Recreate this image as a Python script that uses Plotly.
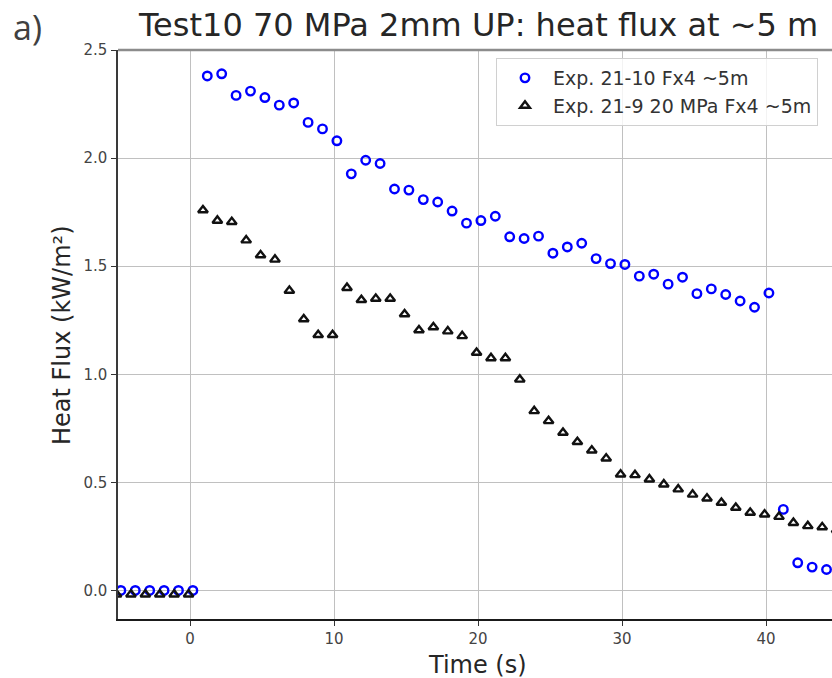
import plotly.graph_objects as go

# ---- data ----
title_text = "Test10 70 MPa 2mm UP: heat flux at ~5 m"
panel_label = "a)"
x_label = "Time (s)"
y_label = "Heat Flux (kW/m²)"

series1_name = "Exp. 21-10 Fx4 ~5m"
series1_time = [-4.8, -3.8, -2.8, -1.8, -0.8, 0.2,
                1.2, 2.2, 3.2, 4.2, 5.2, 6.2, 7.2, 8.2, 9.2, 10.2,
                11.2, 12.2, 13.2, 14.2, 15.2, 16.2, 17.2, 18.2, 19.2, 20.2,
                21.2, 22.2, 23.2, 24.2, 25.2, 26.2, 27.2, 28.2, 29.2, 30.2,
                31.2, 32.2, 33.2, 34.2, 35.2, 36.2, 37.2, 38.2, 39.2, 40.2,
                41.2, 42.2, 43.2, 44.2]
series1_flux = [0.0, 0.0, 0.0, 0.0, 0.0, 0.0,
                2.38, 2.39, 2.29, 2.31, 2.28, 2.245, 2.255, 2.165, 2.135, 2.08,
                1.927, 1.99, 1.975, 1.857, 1.852, 1.808, 1.797, 1.755, 1.699, 1.711,
                1.731, 1.636, 1.628, 1.639, 1.56, 1.589, 1.606, 1.535, 1.512, 1.508,
                1.454, 1.463, 1.417, 1.449, 1.373, 1.395, 1.369, 1.339, 1.31, 1.376,
                0.375, 0.128, 0.108, 0.097]

series2_name = "Exp. 21-9 20 MPa Fx4 ~5m"
series2_time = [-5.1, -4.1, -3.1, -2.1, -1.1, -0.1,
                0.9, 1.9, 2.9, 3.9, 4.9, 5.9, 6.9, 7.9, 8.9, 9.9,
                10.9, 11.9, 12.9, 13.9, 14.9, 15.9, 16.9, 17.9, 18.9, 19.9,
                20.9, 21.9, 22.9, 23.9, 24.9, 25.9, 26.9, 27.9, 28.9, 29.9,
                30.9, 31.9, 32.9, 33.9, 34.9, 35.9, 36.9, 37.9, 38.9, 39.9,
                40.9, 41.9, 42.9, 43.9, 44.9]
series2_flux = [-0.018, -0.018, -0.018, -0.018, -0.018, -0.018,
                1.759, 1.711, 1.705, 1.62, 1.551, 1.531, 1.387, 1.255, 1.182, 1.182,
                1.4, 1.344, 1.35, 1.35, 1.278, 1.204, 1.218, 1.199, 1.177, 1.1,
                1.075, 1.075, 0.976, 0.83, 0.784, 0.73, 0.687, 0.648, 0.611, 0.537,
                0.534, 0.514, 0.491, 0.468, 0.444, 0.426, 0.406, 0.383, 0.36, 0.352,
                0.341, 0.313, 0.298, 0.293, 0.28]

x_ticks = [0, 10, 20, 30, 40]
y_ticks = [0.0, 0.5, 1.0, 1.5, 2.0, 2.5]
x_range = [-5.0, 44.58]
y_range = [-0.132, 2.5]

# ---- figure ----
FONT = "DejaVu Sans"
fig = go.Figure()

fig.add_trace(go.Scatter(
    x=series1_time, y=series1_flux, mode="markers", name=series1_name,
    marker=dict(symbol="circle-open", size=8.5, color="#0000ff",
                line=dict(width=2.4, color="#0000ff")),
))
fig.add_trace(go.Scatter(
    x=series2_time, y=series2_flux, mode="markers", name=series2_name,
    marker=dict(symbol="triangle-up-open", size=8.5, color="#111111",
                line=dict(width=2.4, color="#111111")),
))

fig.update_layout(
    width=832, height=678,
    margin=dict(l=118, r=0, t=50, b=59),
    paper_bgcolor="white", plot_bgcolor="white",
    font=dict(family=FONT, color="#333333"),
    showlegend=True,
    legend=dict(
        x=(496 - 118) / 714, y=(619 - 58) / 569, xanchor="left", yanchor="top",
        bgcolor="rgba(255,255,255,0.8)", bordercolor="#d0d0d0", borderwidth=1,
        font=dict(family=FONT, size=19, color="#333333"),
        itemwidth=46,
    ),
    xaxis=dict(
        range=x_range, tickvals=x_ticks, ticktext=[str(v) for v in x_ticks],
        showgrid=True, gridcolor="#c0c0c0", gridwidth=1.3,
        showline=True, linecolor="#1a1a1a", linewidth=1.5, mirror=False,
        ticks="outside", ticklen=5, tickwidth=1.2, tickcolor="#333333",
        tickfont=dict(family=FONT, size=15, color="#444444"),
        zeroline=False,
    ),
    yaxis=dict(
        range=y_range, tickvals=y_ticks, ticktext=[f"{v:.1f}" for v in y_ticks],
        showgrid=True, gridcolor="#c0c0c0", gridwidth=1.3,
        showline=True, linecolor="#3a3a3a", linewidth=1.5, mirror=False,
        ticks="outside", ticklen=5, tickwidth=1.2, tickcolor="#333333",
        tickfont=dict(family=FONT, size=15, color="#444444"),
        ticklabelstandoff=1,
        zeroline=False,
    ),
    shapes=[dict(type="line", xref="paper", yref="paper", x0=0, x1=1, y0=1, y1=1,
                 line=dict(color="#8c8c8c", width=2.5))],
    annotations=[
        dict(text=title_text, xref="paper", yref="paper",
             x=(136 - 118) / 714, y=(619 - 25) / 569, xanchor="left", yanchor="middle",
             showarrow=False, font=dict(family=FONT, size=32, color="#262626")),
        dict(text=panel_label, xref="paper", yref="paper",
             x=(11 - 118) / 714, y=(619 - 27) / 569, xanchor="left", yanchor="middle",
             showarrow=False, font=dict(family="Open Sans", size=34, color="#404040")),
        dict(text=x_label, xref="paper", yref="paper",
             x=(477.5 - 118) / 714, y=(619 - 664.5) / 569, xanchor="center", yanchor="middle",
             showarrow=False, font=dict(family=FONT, size=24, color="#262626")),
        dict(text=y_label, xref="paper", yref="paper", textangle=-90,
             x=(62 - 118) / 714, y=(619 - 335) / 569, xanchor="center", yanchor="middle",
             showarrow=False, font=dict(family=FONT, size=24, color="#262626")),
    ],
)

fig.write_html(
    "out.html",
    config={"displayModeBar": False},
    post_script="document.body.style.margin='0';document.body.style.overflow='hidden';",
)
